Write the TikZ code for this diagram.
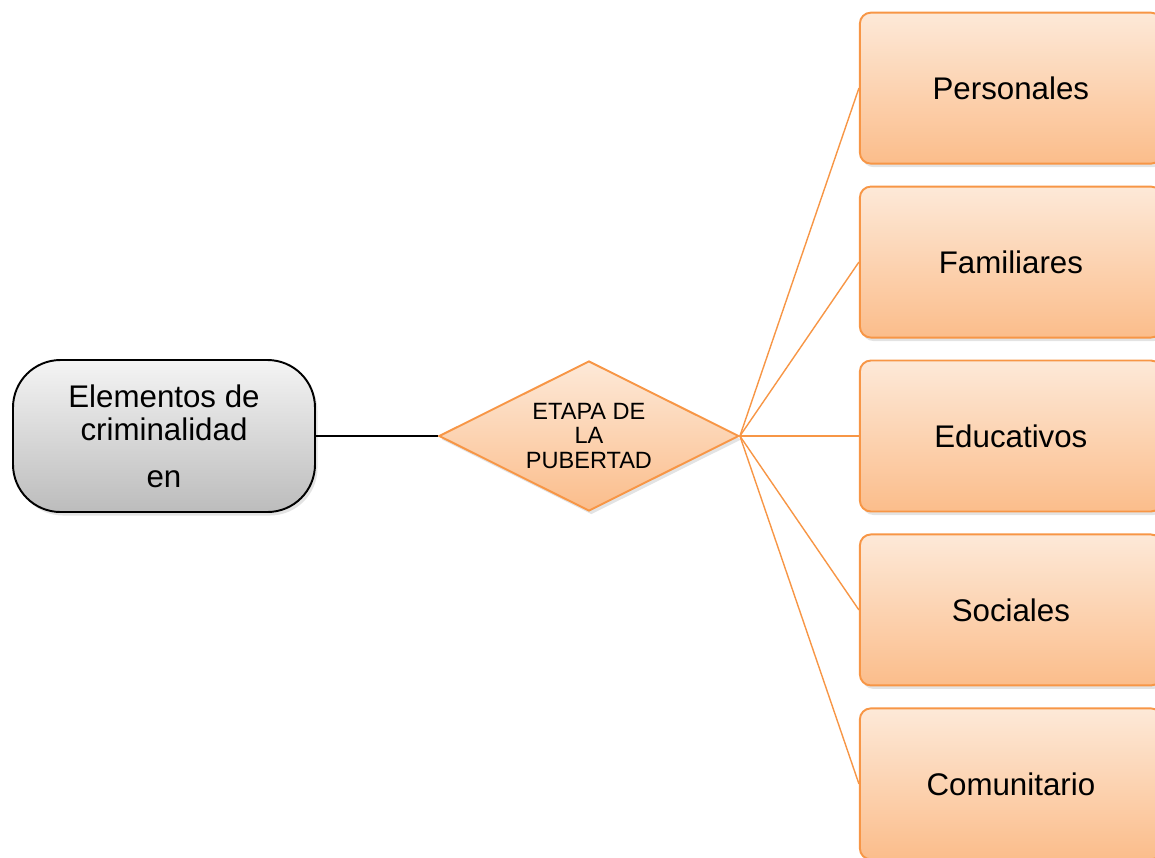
\documentclass[tikz,border=0pt]{standalone}
\usepackage{fontspec}
\setmainfont{Liberation Sans}
\usetikzlibrary{shapes.geometric,positioning,shadows}
\usepackage{xcolor}

\definecolor{naranja}{RGB}{247,150,70}
\definecolor{naranjaclaro}{RGB}{253,233,216}
\definecolor{naranjaoscuro}{RGB}{251,189,139}
\definecolor{grisclaro}{RGB}{244,244,244}
\definecolor{grisoscuro}{RGB}{188,188,188}

\tikzset{
  sombra/.style={drop shadow={opacity=0.22,shadow xshift=0.05cm,shadow yshift=-0.07cm}},
  factor/.style={draw=naranja,line width=1.1pt,rectangle,rounded corners=0.22cm,
    top color=naranjaclaro,bottom color=naranjaoscuro,minimum width=6.04cm,
    minimum height=3.02cm,sombra,font=\fontsize{17.8}{18.7}\selectfont},
  enlace/.style={draw=naranja,line width=0.8pt}
}

\begin{document}
\begin{tikzpicture}[node distance=2.44cm]
				\clip (0,0) rectangle (23.1,-17.14);
				
				% Elementos de criminalidad
				\node[draw,line width=1.1pt,rectangle,rounded corners=0.95cm,top color=grisclaro,bottom color=grisoscuro,
				minimum width=6.04cm,minimum height=3.04cm,sombra,align=center,
				font=\fontsize{17.8}{18.7}\selectfont] (crim) at (3.28,-8.72) {
					Elementos de\\
					criminalidad\\[8pt]
					en
				};
				
				% Etapa de la pubertad
				\node[draw=naranja,line width=1.1pt,diamond,aspect=2,inner sep=0pt,minimum width=6cm,minimum height=3cm,
				top color=naranjaclaro,bottom color=naranjaoscuro,sombra,right=of crim,align=center,
				font=\fontsize{13.4}{14.2}\selectfont] (etapa) {
					ETAPA DE\\
					LA\\
					PUBERTAD
				};
				
				% Factores
				\node[factor,right=2.38cm of etapa] (educ) {Educativos};
				\node[factor,above=0.42cm of educ] (fam) {Familiares};
				\node[factor,above=0.42cm of fam] (pers) {Personales};
				\node[factor,below=0.42cm of educ] (soc) {Sociales};
				\node[factor,below=0.42cm of soc] (com) {Comunitario};
				
				% Conexiones
				\draw[line width=0.9pt] (crim.east) -- (etapa.west);
				\foreach \f in {pers,fam,educ,soc,com}
					\draw[enlace] (etapa.east) -- (\f.west);
				
			\end{tikzpicture}
\end{document}
